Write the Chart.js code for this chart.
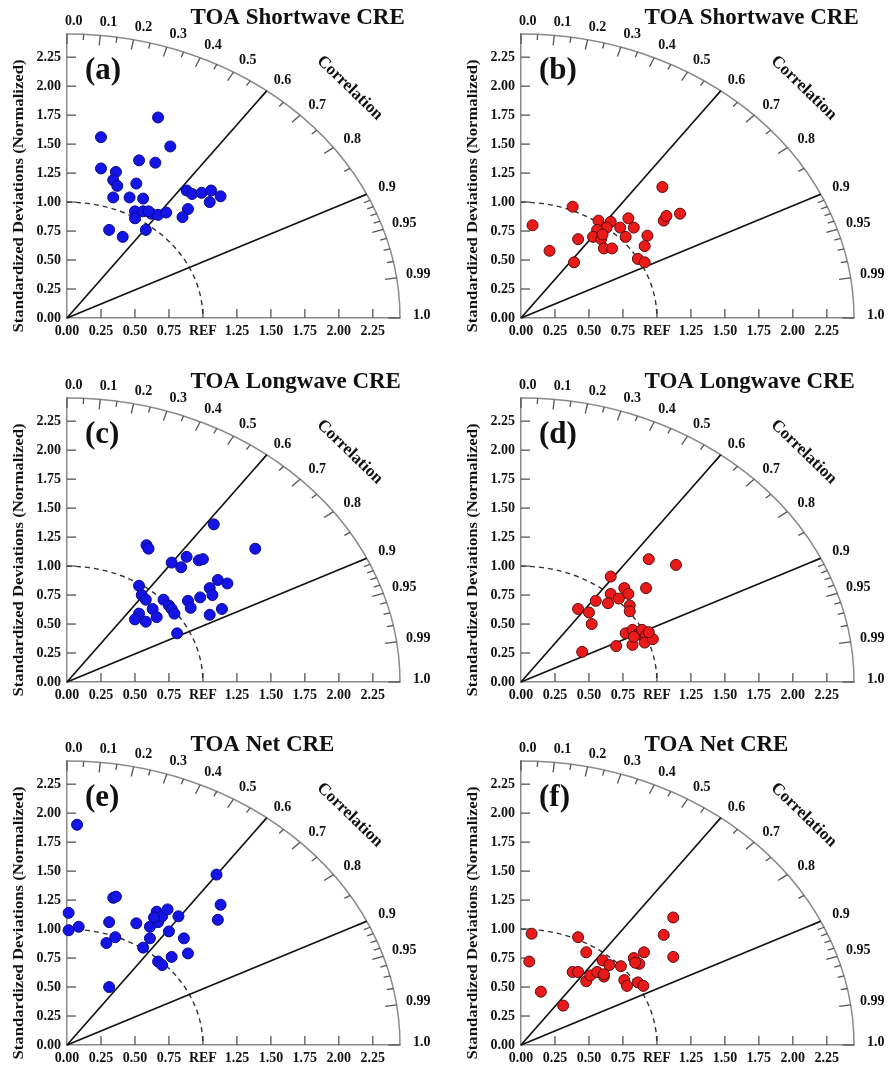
<!DOCTYPE html>
<html>
<head>
<meta charset="utf-8">
<script src="https://cdn.jsdelivr.net/npm/chart.js@4/dist/chart.umd.min.js"></script>
<style>
  body { margin: 0; background: #fff; width: 890px; height: 1067px; overflow: hidden; position: relative; }
  canvas { position: absolute; }
</style>
</head>
<body>
<canvas id="pa" width="436" height="340" style="left:0;top:0"></canvas>
<canvas id="pb" width="436" height="340" style="left:454px;top:0"></canvas>
<canvas id="pc" width="436" height="340" style="left:0;top:364px"></canvas>
<canvas id="pd" width="436" height="340" style="left:454px;top:364px"></canvas>
<canvas id="pe" width="436" height="340" style="left:0;top:727px"></canvas>
<canvas id="pf" width="436" height="340" style="left:454px;top:727px"></canvas>
<script>
// standard deviation axes
const stdMax = 2.45;
const stdTicks = [0, 0.25, 0.5, 0.75, 1, 1.25, 1.5, 1.75, 2, 2.25];
const xTickLabels = ['0.00', '0.25', '0.50', '0.75', 'REF', '1.25', '1.50', '1.75', '2.00', '2.25'];
const yTickLabels = ['0.00', '0.25', '0.50', '0.75', '1.00', '1.25', '1.50', '1.75', '2.00', '2.25'];

// correlation arc
const corrMajor = [0.0, 0.1, 0.2, 0.3, 0.4, 0.5, 0.6, 0.7, 0.8, 0.9, 0.95, 0.99, 1.0];
const corrLabels = ['0.0', '0.1', '0.2', '0.3', '0.4', '0.5', '0.6', '0.7', '0.8', '0.9', '0.95', '0.99', '1.0'];
const corrMinor = [0.05, 0.15, 0.25, 0.35, 0.45, 0.55, 0.65, 0.75, 0.85, 0.91, 0.92, 0.93, 0.94, 0.96, 0.97, 0.98];
const corrLines = [0.6, 0.9];
const refStd = 1;

const titles = ['TOA Shortwave CRE', 'TOA Shortwave CRE', 'TOA Longwave CRE', 'TOA Longwave CRE', 'TOA Net CRE', 'TOA Net CRE'];
const letters = ['(a)', '(b)', '(c)', '(d)', '(e)', '(f)'];

// (a) shortwave, blue
const aX = [0.67, 0.25, 0.76, 0.53, 0.65, 0.25, 0.36, 0.34, 0.37, 0.51, 0.34, 0.46, 0.56, 0.88, 0.92, 0.99, 1.06, 1.05, 1.13, 0.50, 0.50, 0.56, 0.62, 0.67, 0.73, 0.89, 0.85, 0.31, 0.41, 0.58, 0.60];
const aY = [1.73, 1.56, 1.48, 1.36, 1.34, 1.29, 1.26, 1.19, 1.14, 1.16, 1.04, 1.04, 1.03, 1.10, 1.07, 1.08, 1.10, 1.00, 1.05, 0.92, 0.86, 0.92, 0.90, 0.89, 0.91, 0.94, 0.87, 0.76, 0.70, 0.76, 0.92];
// (b) shortwave, red
const bX = [1.04, 0.085, 0.38, 0.21, 0.39, 0.42, 0.57, 0.66, 0.63, 0.56, 0.53, 0.59, 0.61, 0.67, 0.73, 0.79, 0.83, 0.77, 0.93, 0.91, 0.86, 0.91, 1.05, 1.07, 1.17, 0.60];
const bY = [1.13, 0.80, 0.96, 0.58, 0.48, 0.68, 0.84, 0.83, 0.78, 0.76, 0.70, 0.68, 0.60, 0.60, 0.78, 0.86, 0.78, 0.70, 0.71, 0.62, 0.51, 0.48, 0.84, 0.88, 0.90, 0.72];
// (c) longwave, blue
const cX = [1.08, 0.585, 0.60, 1.385, 0.77, 0.88, 0.84, 0.97, 1.0, 0.53, 0.55, 0.58, 0.71, 0.75, 0.77, 0.79, 0.63, 0.66, 0.53, 0.50, 0.58, 0.81, 0.89, 0.91, 0.98, 1.05, 1.07, 1.11, 1.18, 1.05, 1.14];
const cY = [1.36, 1.18, 1.15, 1.15, 1.03, 1.08, 0.99, 1.05, 1.06, 0.83, 0.75, 0.71, 0.71, 0.66, 0.63, 0.59, 0.63, 0.56, 0.59, 0.54, 0.52, 0.42, 0.70, 0.64, 0.73, 0.81, 0.75, 0.88, 0.85, 0.58, 0.63];
// (d) longwave, red
const dX = [0.94, 1.14, 0.66, 0.92, 0.76, 0.79, 0.66, 0.72, 0.64, 0.55, 0.42, 0.50, 0.52, 0.80, 0.80, 0.45, 0.70, 0.82, 0.77, 0.82, 0.86, 0.89, 0.92, 0.91, 0.97, 0.94, 0.83];
const dY = [1.06, 1.01, 0.91, 0.81, 0.81, 0.76, 0.76, 0.72, 0.68, 0.70, 0.63, 0.60, 0.50, 0.66, 0.61, 0.26, 0.31, 0.32, 0.42, 0.45, 0.41, 0.45, 0.40, 0.34, 0.37, 0.43, 0.39];
// (e) net, blue
const eX = [0.074, 1.10, 1.13, 1.11, 0.34, 0.36, 0.012, 0.012, 0.086, 0.31, 0.29, 0.355, 0.31, 0.51, 0.56, 0.61, 0.61, 0.66, 0.67, 0.70, 0.74, 0.64, 0.82, 0.75, 0.86, 0.89, 0.77, 0.67, 0.70];
const eY = [1.90, 1.47, 1.21, 1.08, 1.27, 1.28, 1.14, 0.99, 1.02, 1.06, 0.88, 0.93, 0.50, 1.05, 0.84, 1.02, 0.92, 1.15, 1.06, 1.11, 1.17, 1.10, 1.11, 0.98, 0.92, 0.79, 0.76, 0.72, 0.69];
// (f) net, red
const fX = [1.12, 1.05, 1.12, 0.078, 0.061, 0.146, 0.31, 0.42, 0.48, 0.38, 0.42, 0.48, 0.51, 0.56, 0.61, 0.60, 0.65, 0.735, 0.76, 0.78, 0.83, 0.87, 0.905, 0.86, 0.90, 0.84, 0.61];
const fY = [1.10, 0.95, 0.76, 0.96, 0.72, 0.46, 0.34, 0.93, 0.80, 0.63, 0.63, 0.55, 0.60, 0.63, 0.59, 0.73, 0.69, 0.68, 0.56, 0.51, 0.75, 0.70, 0.80, 0.54, 0.51, 0.71, 0.61];

const SERIF = "'Liberation Serif', 'Times New Roman', serif";
const BLUE = { fill: '#1414e6', line: '#0a0a8c' };
const RED = { fill: '#ea1a1a', line: '#5a0c0c' };

function seg(ctx, x1, y1, x2, y2) {
    ctx.beginPath();
    ctx.moveTo(x1, y1);
    ctx.lineTo(x2, y2);
    ctx.stroke();
}

// draws the polar frame of the taylor diagram on top of the cartesian scales
const taylorFrame = {
    id: 'taylorFrame',
    beforeDatasetsDraw(chart) {
        const ctx = chart.ctx, xs = chart.scales.x, ys = chart.scales.y;
        const ox = xs.getPixelForValue(0), oy = ys.getPixelForValue(0);
        const at = (r, c) => [xs.getPixelForValue(r * c), ys.getPixelForValue(r * Math.sqrt(1 - c * c))];
        ctx.save();

        // inner ticks on the std axes
        ctx.strokeStyle = '#555';
        ctx.lineWidth = 1.3;
        stdTicks.forEach(v => {
            if (v === 0) return;
            const px = xs.getPixelForValue(v);
            seg(ctx, px, oy, px, oy - 9);
            const py = ys.getPixelForValue(v);
            seg(ctx, ox, py, ox + 9, py);
        });

        // outer arc
        ctx.strokeStyle = '#8a8a8a';
        ctx.lineWidth = 1.5;
        ctx.beginPath();
        ctx.ellipse(ox, oy, xs.getPixelForValue(stdMax) - ox, oy - ys.getPixelForValue(stdMax), 0, -Math.PI / 2, 0);
        ctx.stroke();

        ctx.strokeStyle = '#555';
        ctx.lineWidth = 1.3;
        corrMajor.forEach(c => {
            const p = at(stdMax, c), q = at(stdMax * 0.965, c);
            seg(ctx, p[0], p[1], q[0], q[1]);
        });
        corrMinor.forEach(c => {
            const p = at(stdMax, c), q = at(stdMax * 0.98, c);
            seg(ctx, p[0], p[1], q[0], q[1]);
        });

        // REF circle
        ctx.setLineDash([5, 4]);
        ctx.strokeStyle = '#333';
        ctx.lineWidth = 1.4;
        ctx.beginPath();
        ctx.ellipse(ox, oy, xs.getPixelForValue(refStd) - ox, oy - ys.getPixelForValue(refStd), 0, -Math.PI / 2, 0);
        ctx.stroke();

        // correlation lines
        ctx.setLineDash([]);
        ctx.strokeStyle = '#111';
        ctx.lineWidth = 1.7;
        corrLines.forEach(c => {
            const p = at(stdMax, c);
            seg(ctx, ox, oy, p[0], p[1]);
        });
        ctx.restore();
    },
    afterDraw(chart, args, opts) {
        const ctx = chart.ctx, xs = chart.scales.x, ys = chart.scales.y;
        const ox = xs.getPixelForValue(0), oy = ys.getPixelForValue(0);
        ctx.save();
        ctx.fillStyle = '#111';
        ctx.textBaseline = 'middle';

        // correlation labels
        ctx.font = 'bold 14px ' + SERIF;
        ctx.textAlign = 'center';
        corrMajor.forEach((c, i) => {
            const s = Math.sqrt(1 - c * c);
            ctx.fillText(corrLabels[i], xs.getPixelForValue(0.05 + 2.56 * c), ys.getPixelForValue(0.02 + 2.54 * s));
        });

        // "Correlation" along the arc
        ctx.save();
        ctx.translate(xs.getPixelForValue(2.08), ys.getPixelForValue(1.985));
        ctx.rotate(44 * Math.PI / 180);
        ctx.font = 'bold 17px ' + SERIF;
        ctx.fillText('Correlation', 0, 0);
        ctx.restore();

        // y axis title
        ctx.save();
        ctx.translate(19, oy - 122);
        ctx.rotate(-Math.PI / 2);
        ctx.font = 'bold 14px ' + SERIF;
        const yt = 'Standardized Deviations (Normalized)';
        ctx.scale(273 / ctx.measureText(yt).width, 1);
        ctx.fillText(yt, 0, 0);
        ctx.restore();

        // panel title and letter
        ctx.textAlign = 'left';
        ctx.font = 'bold 23px ' + SERIF;
        ctx.fillText(opts.title, ox + 123.5, oy - 300);
        ctx.font = 'bold 31px ' + SERIF;
        ctx.fillText(opts.letter, ox + 18, oy - 247);
        ctx.restore();
    }
};

function makePanel(id, idx, xs, ys, col) {
    const tickFont = { family: SERIF, size: 14, weight: 'bold' };
    new Chart(document.getElementById(id).getContext('2d'), {
        type: 'scatter',
        data: {
            datasets: [{
                data: xs.map((v, i) => ({ x: v, y: ys[i] })),
                backgroundColor: col.fill,
                borderColor: col.line,
                borderWidth: 1,
                pointRadius: 5.5,
                clip: false
            }]
        },
        options: {
            responsive: false,
            animation: false,
            events: [],
            layout: { padding: { top: 34, right: 36, bottom: 0, left: 0 } },
            plugins: {
                legend: { display: false },
                tooltip: { enabled: false },
                taylorFrame: { title: titles[idx], letter: letters[idx] }
            },
            scales: {
                x: {
                    type: 'linear', min: 0, max: stdMax,
                    grid: { display: true, drawOnChartArea: false, drawTicks: false },
                    border: { color: '#8a8a8a', width: 1.5 },
                    afterBuildTicks: s => { s.ticks = stdTicks.map(v => ({ value: v })); },
                    afterFit: s => { s.height = 22; },
                    ticks: { padding: 5, autoSkip: false, maxRotation: 0, color: '#111', font: tickFont,
                             callback: (v, i) => xTickLabels[i] }
                },
                y: {
                    type: 'linear', min: 0, max: stdMax,
                    grid: { display: true, drawOnChartArea: false, drawTicks: false },
                    border: { color: '#8a8a8a', width: 1.5 },
                    afterBuildTicks: s => { s.ticks = stdTicks.map(v => ({ value: v })); },
                    afterFit: s => { s.width = 67; },
                    ticks: { padding: 6, autoSkip: false, color: '#111', font: tickFont,
                             callback: (v, i) => yTickLabels[i] }
                }
            }
        },
        plugins: [taylorFrame]
    });
}

makePanel('pa', 0, aX, aY, BLUE);
makePanel('pb', 1, bX, bY, RED);
makePanel('pc', 2, cX, cY, BLUE);
makePanel('pd', 3, dX, dY, RED);
makePanel('pe', 4, eX, eY, BLUE);
makePanel('pf', 5, fX, fY, RED);
</script>
</body>
</html>
